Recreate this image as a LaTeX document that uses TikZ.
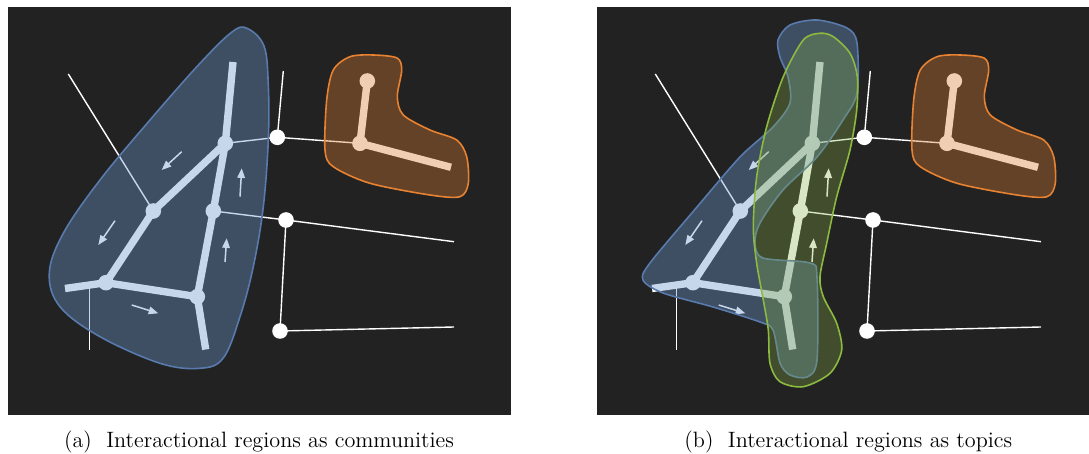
\documentclass[tikz,border=0pt]{standalone}
\usetikzlibrary{arrows.meta}
\definecolor{bg}{HTML}{222222}
\definecolor{blueF}{RGB}{110,152,205}
\definecolor{blueL}{RGB}{88,122,172}
\definecolor{greenF}{RGB}{135,175,70}
\definecolor{greenL}{RGB}{140,186,64}
\definecolor{orangeF}{RGB}{215,123,50}
\definecolor{orangeL}{RGB}{230,130,50}
\tikzset{
  net/.style={line width=3.7pt, white},
  vtx/.style={circle, fill=white, inner sep=0pt, minimum size=7.8pt},
  thinline/.style={white, line width=0.7pt},
  flow/.style={white, line width=0.75pt, -{Triangle[length=4.8pt,width=3.8pt]}},
  blob/.style={line width=0.8pt},
}
\newcommand\panelbase{%
  \coordinate (p1) at (68.3,74);
  \coordinate (p2) at (89.3,288);
  \coordinate (p3) at (89.3,350);
  \coordinate (p4) at (283.3,71);
  \coordinate (p5) at (454,241.7);
  \coordinate (p6) at (454,327);
  \coordinate (t) at (233,62);
  \coordinate (lft) at (65,288.5);
  \coordinate (bot) at (205.7,349.5);
  \coordinate (O3) at (451,167.3);
  \node[vtx] (A) at (225.3,143.3) {};
  \node[vtx] (B) at (153.3,211) {};
  \node[vtx] (C) at (213.3,211) {};
  \node[vtx] (D) at (106,282.7) {};
  \node[vtx] (E) at (197.3,296.7) {};
  \node[vtx] (W1) at (277.3,137.3) {};
  \node[vtx] (W2) at (286,220) {};
  \node[vtx] (W3) at (280,331) {};
  \node[vtx] (O1) at (360,143.3) {};
  \node[vtx] (O2) at (367.3,81) {};
  \draw[thinline] (p1) -- (B.center);
  \draw[thinline] (p2) -- (p3);
  \draw[thinline] (W1.center) -- (p4);
  \draw[thinline] (W1.center) -- (A.center);
  \draw[thinline] (W1.center) -- (O1.center);
  \draw[thinline] (C.center) -- (W2.center);
  \draw[thinline] (W2.center) -- (p5);
  \draw[thinline] (W2.center) -- (W3.center);
  \draw[thinline] (W3.center) -- (p6);
  \draw[net] (A.center) -- (t);
  \draw[net] (A.center) -- (B.center);
  \draw[net] (A.center) -- (C.center);
  \draw[net] (B.center) -- (D.center);
  \draw[net] (C.center) -- (E.center);
  \draw[net] (D.center) -- (E.center);
  \draw[net] (D.center) -- (lft);
  \draw[net] (E.center) -- (bot);
  \draw[net] (O1.center) -- (O2.center);
  \draw[net] (O1.center) -- (O3);
  \draw[flow] (181.7,151.7) -- (161.7,170);
  \draw[flow] (115,220.7) -- (98.3,245);
  \draw[flow] (240,196.7) -- (241.7,168.3);
  \draw[flow] (225,262) -- (226.7,238.3);
  \draw[flow] (131.7,305) -- (158.3,313.3);
}
\newcommand\panelorange{%
  \draw[blob, fill=orangeF, fill opacity=0.37, draw=orangeL]
    plot[smooth cycle] coordinates {(373.3,55) (397,58) (401.7,70) (397.3,96.7)
      (403.3,115) (430,130) (456.7,140) (466.7,156.7) (468.3,183.3) (460,196.7)
      (430,195) (370,183.3) (333.3,166.7) (325,150) (326.7,100) (333.3,70) (350,56.7)};
}
\begin{document}
\begin{tikzpicture}[x=0.5pt,y=-0.5pt]
\useasboundingbox (0,0) rectangle (1089,454);
\fill[bg] (8,7) rectangle (511,415);
\fill[bg] (597,7) rectangle (1089,415);
\begin{scope}[name prefix=l-]
  \panelbase
  \draw[blob, fill=blueF, fill opacity=0.38, draw=blueL]
    plot[smooth cycle, tension=0.6] coordinates {(247,28.3) (264,46) (268.3,85) (268.3,140)
      (263.3,206.7) (253.3,266.7) (240,316.7) (223.3,358) (200,368.3) (160,363.3)
      (100,336.7) (60,306.7) (49.3,273.3) (63.3,233.3) (100,180) (150,120)
      (200,63.3) (232,32)};
  \panelorange
\end{scope}
\begin{scope}[shift={(587,0)}, name prefix=r-]
  \panelbase
  \draw[blob, fill=blueF, fill opacity=0.38, draw=blueL]
    plot[smooth cycle] coordinates {(230,20) (260,28) (270,43) (270,93) (256,120)
      (230,157) (196,190) (173,223) (168,243) (176,258) (223,263) (230,277)
      (230,360) (220,377) (203,375) (193,363) (186,330) (173,322) (126,307)
      (76,293) (56,280) (63,263) (110,207) (153,157) (186,127) (203,103)
      (201,77) (193,57) (191,40) (203,25)};
  \draw[blob, fill=greenF, fill opacity=0.31, draw=greenL]
    plot[smooth cycle] coordinates {(216.3,40) (196.3,76.7) (179.7,126.7) (169.7,176.7)
      (166.3,226.7) (169.7,263.3) (176.3,300) (181.3,330) (183,363.3) (193,381.7)
      (216.3,386.7) (243,373.3) (254.7,350) (249.7,323.3) (236.3,296.7) (233,276.7)
      (239.7,243.3) (249.7,196.7) (263,150) (269.7,110) (270.3,76.7) (263,53.3)
      (246.3,36.7) (233,33.3)};
  \panelorange
\end{scope}
\node[anchor=base, font=\fontsize{11.1}{13}\selectfont] (capa) at (259,448) {(a)\ \ Interactional regions as communities};
\node[anchor=base, font=\fontsize{11.1}{13}\selectfont] (capb) at (848.3,448) {(b)\ \ Interactional regions as topics};
\end{tikzpicture}
\end{document}
